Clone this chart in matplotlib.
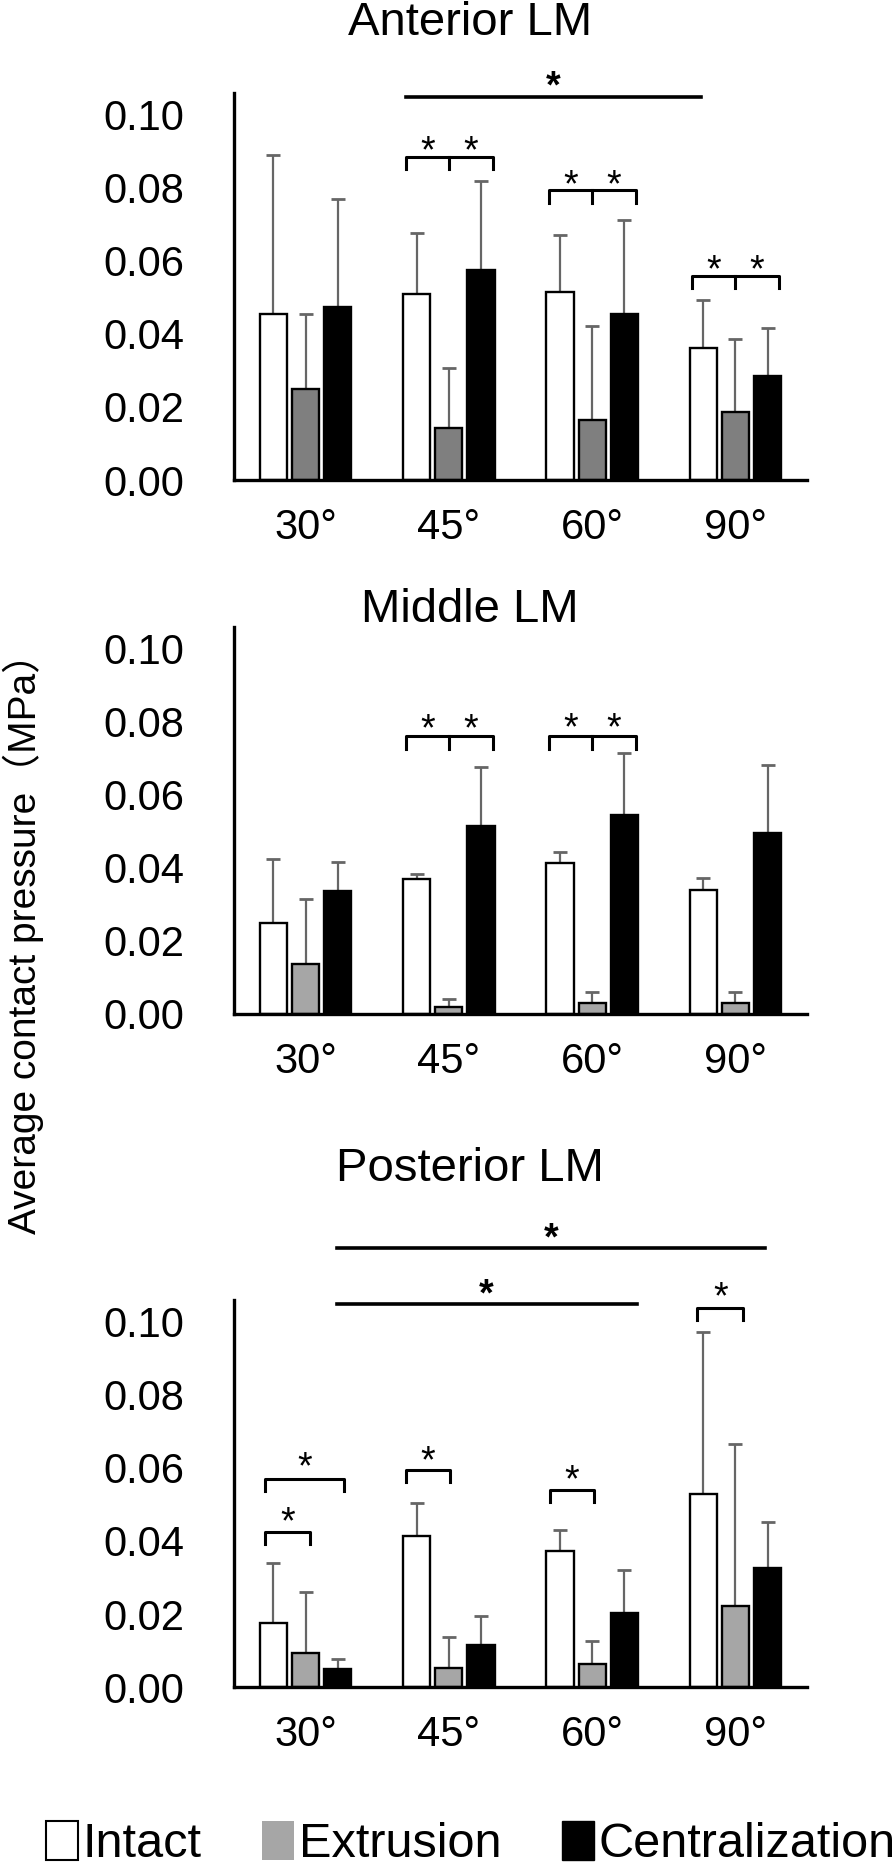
import numpy as np
import matplotlib
matplotlib.use("Agg")
from matplotlib import pyplot as plt
from matplotlib.patches import Patch

plt.rcParams['font.family'] = ['Liberation Sans', 'Noto Sans CJK JP']

angles = ['30°', '45°', '60°', '90°']
groups = ['Intact', 'Extrusion', 'Centralization']

# Anterior LM
ant_intact = [0.0455, 0.0510, 0.0515, 0.0361]
ant_intact_sd = [0.0435, 0.0167, 0.0155, 0.0132]
ant_ext = [0.0250, 0.0143, 0.0163, 0.0186]
ant_ext_sd = [0.0205, 0.0164, 0.0260, 0.0199]
ant_cen = [0.0475, 0.0575, 0.0455, 0.0284]
ant_cen_sd = [0.0295, 0.0243, 0.0257, 0.0133]

# Middle LM
mid_intact = [0.0250, 0.0369, 0.0413, 0.0339]
mid_intact_sd = [0.0175, 0.0015, 0.0032, 0.0034]
mid_ext = [0.0138, 0.0020, 0.0030, 0.0030]
mid_ext_sd = [0.0178, 0.0021, 0.0030, 0.0030]
mid_cen = [0.0337, 0.0516, 0.0544, 0.0495]
mid_cen_sd = [0.0080, 0.0161, 0.0172, 0.0187]

# Posterior LM
post_intact = [0.0175, 0.0414, 0.0373, 0.0529]
post_intact_sd = [0.0166, 0.0089, 0.0057, 0.0444]
post_ext = [0.0093, 0.0052, 0.0064, 0.0223]
post_ext_sd = [0.0167, 0.0086, 0.0061, 0.0443]
post_cen = [0.0048, 0.0115, 0.0203, 0.0325]
post_cen_sd = [0.0028, 0.0080, 0.0117, 0.0128]

# significance marks: (x0, x1, y)
ant_lines = [(0.70, 2.76, 0.1050)]
ant_pairs = [(1, 0.0884, 0.0932), (2, 0.0793, 0.0840), (3, 0.0559, 0.0607)]  # group, bracket y, star y
ant_brackets = []
mid_lines = []
mid_pairs = [(1, 0.0760, 0.0812), (2, 0.0760, 0.0815)]
mid_brackets = []
post_lines = [(0.217, 3.205, 0.1203), (0.217, 2.31, 0.1048)]
post_pairs = []
post_brackets = [(-0.285, 0.269, 0.0569, 0.0632), (-0.285, 0.03, 0.0424, 0.0483),
                 (0.703, 1.006, 0.0595, 0.0650), (1.707, 2.01, 0.0540, 0.0597),
                 (2.735, 3.054, 0.1038, 0.1100)]

panels = [
    ('Anterior LM', [ant_intact, ant_ext, ant_cen], [ant_intact_sd, ant_ext_sd, ant_cen_sd],
     '#7f7f7f', ant_lines, ant_pairs, ant_brackets, 0.7429),
    ('Middle LM', [mid_intact, mid_ext, mid_cen], [mid_intact_sd, mid_ext_sd, mid_cen_sd],
     '#a6a6a6', mid_lines, mid_pairs, mid_brackets, 0.4569),
    ('Posterior LM', [post_intact, post_ext, post_cen], [post_intact_sd, post_ext_sd, post_cen_sd],
     '#a6a6a6', post_lines, post_pairs, post_brackets, 0.0964),
]
title_y = [1 - 35 / 1867, 1 - 622 / 1867, 1 - 1181 / 1867]

W, H = 894, 1867
fig = plt.figure(figsize=(W / 100, H / 100), dpi=100)

x = np.arange(len(angles))
offsets = [-0.225, 0.0, 0.225]
bw = 0.19
drop = 0.0033
star_fs = 27


def star(ax, xs, ys, bold=False):
    ax.annotate('*', (xs, ys), xytext=(0, -0.6 * star_fs), textcoords='offset points',
                ha='center', va='baseline', fontsize=star_fs,
                fontweight='bold' if bold else 'normal', annotation_clip=False)


for i, (title, vals, sds, extc, lines, pairs, brackets, bottom) in enumerate(panels):
    ax = fig.add_axes([234 / W, bottom, 573 / W, 387 / H])
    colors = ['white', extc, 'black']
    for k in range(3):
        xs = x + offsets[k]
        ax.errorbar(xs, vals[k], yerr=[np.zeros(4), sds[k]], fmt='none', ecolor='#666666',
                    elinewidth=1.6, capsize=5, capthick=2.0, zorder=1)
        ax.bar(xs, vals[k], bw, color=colors[k], edgecolor='black', linewidth=1.7, zorder=2)

    ax.set_xlim(-0.5, 3.5)
    ax.set_ylim(0, 0.106)
    ax.set_yticks([0, 0.02, 0.04, 0.06, 0.08, 0.10])
    ax.set_yticklabels(['%.2f' % v for v in [0, 0.02, 0.04, 0.06, 0.08, 0.10]])
    ax.set_xticks(x)
    ax.set_xticklabels(angles)
    ax.tick_params(axis='y', length=0, labelsize=30, pad=36)
    ax.tick_params(axis='x', length=0, labelsize=30, pad=20)
    for s in ['top', 'right']:
        ax.spines[s].set_visible(False)
    for s in ['left', 'bottom']:
        ax.spines[s].set_linewidth(2.4)

    for x0, x1, y in lines:
        ax.plot([x0, x1], [y, y], color='black', lw=2.6, clip_on=False)
        star(ax, (x0 + x1) / 2, y + 0.0058, bold=True)
    for g, y, ys in pairs:
        ax.plot([g - 0.3, g - 0.3, g + 0.305, g + 0.305], [y - drop, y, y, y - drop],
                color='black', lw=2.2, clip_on=False)
        ax.plot([g, g], [y, y - drop], color='black', lw=2.2, clip_on=False)
        star(ax, g - 0.15, ys)
        star(ax, g + 0.15, ys)
    for x0, x1, y, ys in brackets:
        ax.plot([x0, x0, x1, x1], [y - drop, y, y, y - drop], color='black', lw=2.2, clip_on=False)
        star(ax, (x0 + x1) / 2, ys)

    fig.text(470 / W, title_y[i], title, ha='center', va='baseline', fontsize=34)

fig.text(23 / W, 1 - 934 / H, 'Average contact pressure（MPa）', rotation=90,
         ha='center', va='center', fontsize=28)

handles = [Patch(facecolor='white', edgecolor='black', linewidth=1.5),
           Patch(facecolor='#a6a6a6', edgecolor='none'),
           Patch(facecolor='black', edgecolor='black')]
fig.legend(handles, groups, loc='lower left', bbox_to_anchor=(46 / W, 0.0), ncol=3,
           frameon=False, fontsize=35, handlelength=0.65, handleheight=0.85,
           handletextpad=0.1, columnspacing=1.25, borderpad=0, borderaxespad=0)

plt.savefig('out.png', dpi=100)
